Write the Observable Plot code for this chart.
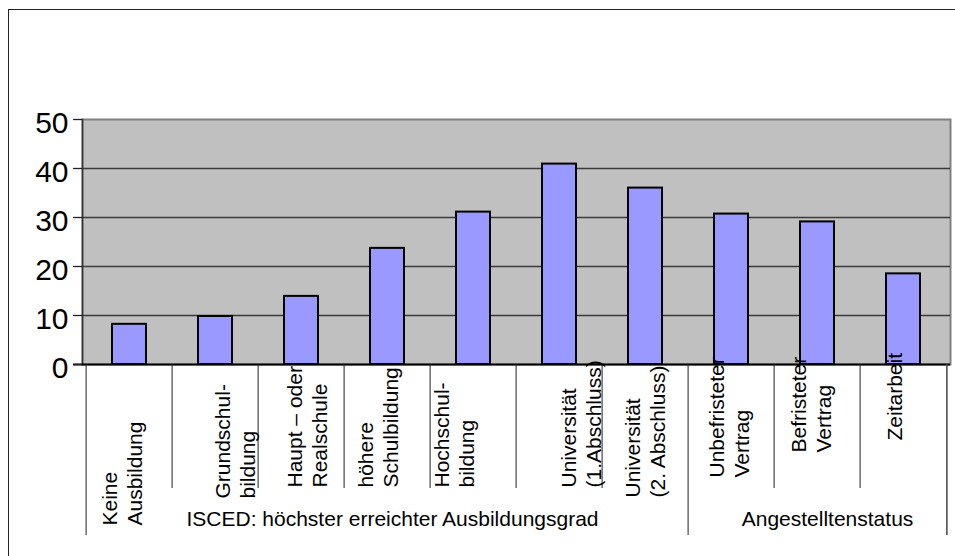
<!DOCTYPE html>
<html><head><meta charset="utf-8">
<script src="https://cdn.jsdelivr.net/npm/d3@7"></script>
<script src="https://cdn.jsdelivr.net/npm/@observablehq/plot@0.6"></script>
<style>
html,body{margin:0;padding:0;background:#fff;overflow:hidden;width:955px;height:556px;}
#wrap{position:relative;width:955px;height:556px;overflow:hidden;}
#border{position:absolute;left:8px;top:9px;width:947px;height:547px;border-top:1.5px solid #222;border-left:1.5px solid #222;box-sizing:border-box;}
#chart{position:absolute;left:0;top:0;}
</style></head><body>
<div id="wrap"><div id="border"></div><div id="chart"></div></div>
<script>
// ---- data ----
const categories = [
  "Keine\nAusbildung",
  "Grundschul-\nbildung",
  "Haupt – oder\nRealschule",
  "höhere\nSchulbildung",
  "Hochschul-\nbildung",
  "Universität\n(1.Abschluss)",
  "Universität\n(2. Abschluss)",
  "Unbefristeter\nVertrag",
  "Befristeter\nVertrag",
  "Zeitarbeit"
];
const values = [8.2, 9.8, 13.9, 23.7, 31.1, 40.9, 36.0, 30.7, 29.1, 18.5];
const groupNames = ["ISCED: höchster erreichter Ausbildungsgrad", "Angestelltenstatus"];
const groupSizes = [7, 3];
const yTicks = [0, 10, 20, 30, 40, 50];

// ---- layout (label nudges, px) ----
const labelDx = [-8, 19, 5, -10, -20, 21, -1, -3, -7, -9];
const labelDy = [161, 134, 123, 123, 123, 123, 133, 113, 88, 76];
const groupDx = [5, 10];

const W = 955, H = 556, mL = 82, mR = 5, mT = 119, mB = 192;
const frameW = W - mL - mR, frameH = H - mT - mB;
const step = frameW / categories.length;

const rows = categories.map((c, i) => ({c, v: values[i]}));
const groupStarts = [];
{ let s = 0; for (const n of groupSizes) { groupStarts.push(s); s += n; } }
const groupMid = groupSizes.map((n, i) => categories[groupStarts[i] + (n - 1) / 2]);
const innerSeps = categories.filter((c, i) => !groupStarts.includes(i));
const outerSeps = groupStarts.map(i => categories[i]);

const font = "'Liberation Sans', Arial, sans-serif";

const marks = [
  Plot.frame({fill: "#C0C0C0", stroke: "#808080", strokeWidth: 2}),
  Plot.ruleY(yTicks.filter(t => t > 0 && t < 50), {stroke: "#3a3a3a", strokeWidth: 1.3}),
  Plot.frame({anchor: "left", stroke: "#333", strokeWidth: 1.5}),
  Plot.barY(rows, {x: "c", y: "v", fill: "#9999FF", stroke: "#000", strokeWidth: 2}),
  Plot.ruleY([0], {stroke: "#000", strokeWidth: 2, insetLeft: -9}),
  Plot.axisY({ticks: yTicks, tickSize: 9, tickFormat: () => "", stroke: "#222", strokeWidth: 1.3, label: null}),
  Plot.axisY({ticks: yTicks, tickSize: 0, tickPadding: 14, fontSize: 30, dy: 4, fill: "#000", label: null}),
  Plot.ruleX(innerSeps, {x: d => d, dx: -step / 2, insetTop: frameH, insetBottom: -124, stroke: "#222", strokeWidth: 1}),
  Plot.ruleX(outerSeps, {x: d => d, dx: -step / 2, insetTop: frameH, insetBottom: -171, stroke: "#222", strokeWidth: 1}),
  Plot.ruleX([categories[categories.length - 1]], {x: d => d, dx: step / 2, insetTop: frameH, insetBottom: -171, stroke: "#444", strokeWidth: 1.5}),
  ...rows.map((r, i) => Plot.text([r], {
    x: "c", text: "c", frameAnchor: "bottom", rotate: -90, textAnchor: "start",
    lineAnchor: "middle", lineHeight: 1.18, fontSize: 21, fill: "#000",
    dx: labelDx[i], dy: labelDy[i]
  })),
  ...groupNames.map((g, i) => Plot.text([g], {
    x: () => groupMid[i], text: d => d, frameAnchor: "bottom", lineAnchor: "bottom",
    fontSize: 21, fill: "#000", dx: groupDx[i], dy: 161
  }))
];

const chart = Plot.plot({
  width: W, height: H,
  marginLeft: mL, marginRight: mR, marginTop: mT, marginBottom: mB,
  style: {fontFamily: font, background: "transparent", overflow: "visible"},
  x: {domain: categories, paddingInner: 0.6, paddingOuter: 0.3, align: 0.5, axis: null},
  y: {domain: [0, 50], axis: null},
  marks
});
document.getElementById("chart").appendChild(chart);
</script>
</body></html>
